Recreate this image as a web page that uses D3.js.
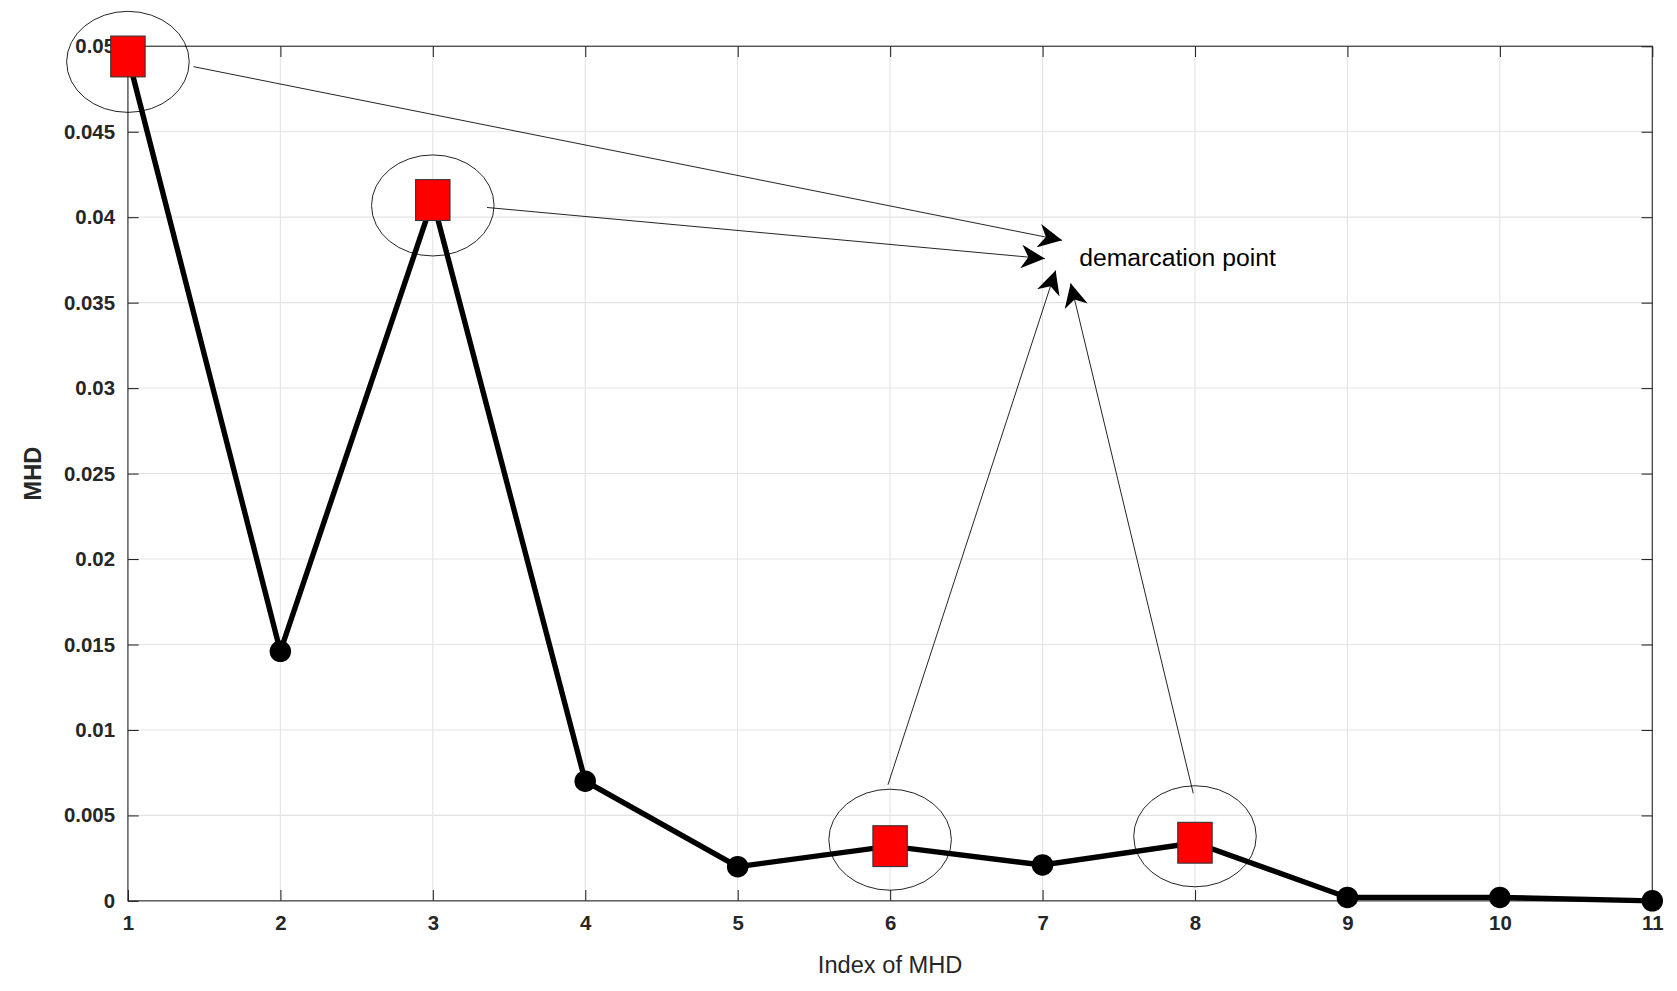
<!DOCTYPE html>
<html><head><meta charset="utf-8">
<script src="https://cdn.jsdelivr.net/npm/d3@7"></script>
<style>body{margin:0;background:#fff}text{font-family:"Liberation Sans",Arial,sans-serif}</style>
</head><body><svg id="c" width="1677" height="991"></svg>
<script>
const idx=[1,2,3,4,5,6,7,8,9,10,11];
const mhd=[0.0494,0.0146,0.0410,0.0070,0.0020,0.0032,0.0021,0.0034,0.0002,0.0002,0.0000];
const marked=[1,3,6,8];
const yTicks=[0,0.005,0.01,0.015,0.02,0.025,0.03,0.035,0.04,0.045,0.05];
const yTickLabels=["0","0.005","0.01","0.015","0.02","0.025","0.03","0.035","0.04","0.045","0.05"];
const target={x:7.1,y:0.0377,label:"demarcation point"};

const root=d3.select("#c").append("g").attr("transform","scale(1.075)");
const svg=root;
const L=119,R=1537,T=43,B=838;
const x=d3.scaleLinear().domain([1,11]).range([L,R]);
const y=d3.scaleLinear().domain([0,0.05]).range([B,T]);
const g=svg.append("g");
g.selectAll(".gx").data(idx).join("line").attr("x1",d=>x(d)).attr("x2",d=>x(d)).attr("y1",T).attr("y2",B).attr("stroke","#e3e3e3");
g.selectAll(".gy").data(yTicks).join("line").attr("y1",d=>y(d)).attr("y2",d=>y(d)).attr("x1",L).attr("x2",R).attr("stroke","#e3e3e3");
const ax=(sel)=>sel.call(s=>s.select(".domain").remove()).selectAll("text").attr("font-size",19).attr("fill","#262626").attr("font-weight","bold");
g.append("g").attr("transform",`translate(0,${B})`).call(d3.axisBottom(x).tickValues(idx).tickFormat(d3.format("d")).tickSizeInner(-10).tickPadding(14)).call(ax);
g.append("g").attr("transform",`translate(0,${T})`).call(d3.axisTop(x).tickValues(idx).tickFormat("").tickSizeInner(-10)).call(ax);
g.append("g").attr("transform",`translate(${L},0)`).call(d3.axisLeft(y).tickValues(yTicks).tickFormat((d,i)=>yTickLabels[i]).tickSizeInner(-10).tickPadding(12)).call(ax);
g.append("g").attr("transform",`translate(${R},0)`).call(d3.axisRight(y).tickValues(yTicks).tickFormat("").tickSizeInner(-10)).call(ax);
g.selectAll(".tick line").attr("stroke","#262626");
g.append("rect").attr("x",L).attr("y",T).attr("width",R-L).attr("height",B-T).attr("fill","none").attr("stroke","#262626");
svg.append("text").attr("x",(L+R)/2).attr("y",905).attr("text-anchor","middle").attr("font-size",22).attr("fill","#262626").text("Index of MHD");
svg.append("text").attr("transform",`translate(38,${(T+B)/2}) rotate(-90)`).attr("text-anchor","middle").attr("font-size",22).attr("font-weight","bold").attr("fill","#262626").text("MHD");
svg.append("path").datum(idx.map((d,i)=>[d,mhd[i]])).attr("d",d3.line().x(d=>x(d[0])).y(d=>y(d[1]))).attr("fill","none").attr("stroke","#000").attr("stroke-width",5);
const pts=idx.map((d,i)=>({x:d,y:mhd[i]}));
svg.selectAll(".c").data(pts.filter(p=>!marked.includes(p.x))).join("circle").attr("cx",d=>x(d.x)).attr("cy",d=>y(d.y)).attr("r",10).attr("fill","#000");
svg.selectAll(".s").data(pts.filter(p=>marked.includes(p.x))).join("rect").attr("x",d=>x(d.x)-16).attr("y",d=>y(d.y)-19).attr("width",32).attr("height",38).attr("fill","#ff0000").attr("stroke","#333").attr("stroke-width",1);
svg.selectAll(".e").data(pts.filter(p=>marked.includes(p.x))).join("ellipse").attr("cx",d=>x(d.x)).attr("cy",d=>y(d.y)+(d.x>5?-6:5)).attr("rx",57).attr("ry",47).attr("fill","none").attr("stroke","#000").attr("stroke-width",0.8);
const defs=d3.select("#c").append("defs");
defs.append("marker").attr("id","ah").attr("viewBox","0 0 10 10").attr("refX",10).attr("refY",5).attr("markerWidth",22).attr("markerHeight",22).attr("markerUnits","userSpaceOnUse").attr("orient","auto")
 .append("path").attr("d","M0,0 L10,5 L0,10 L3,5 Z").attr("fill","#000");
const tx=x(target.x),ty=y(target.y);
const arrows=[[180,62,tx+4,ty-15],[453,193,tx-12,ty+2],[826,730,tx-2,ty+13],[1110,738,tx+12,ty+25]];
svg.selectAll(".a").data(arrows).join("line").attr("x1",d=>d[0]).attr("y1",d=>d[1]).attr("x2",d=>d[2]).attr("y2",d=>d[3]).attr("stroke","#000").attr("stroke-width",0.8).attr("marker-end","url(#ah)");
svg.append("text").attr("x",tx+20).attr("y",ty+9).attr("font-size",23).attr("fill","#000").text(target.label);
</script></body></html>
